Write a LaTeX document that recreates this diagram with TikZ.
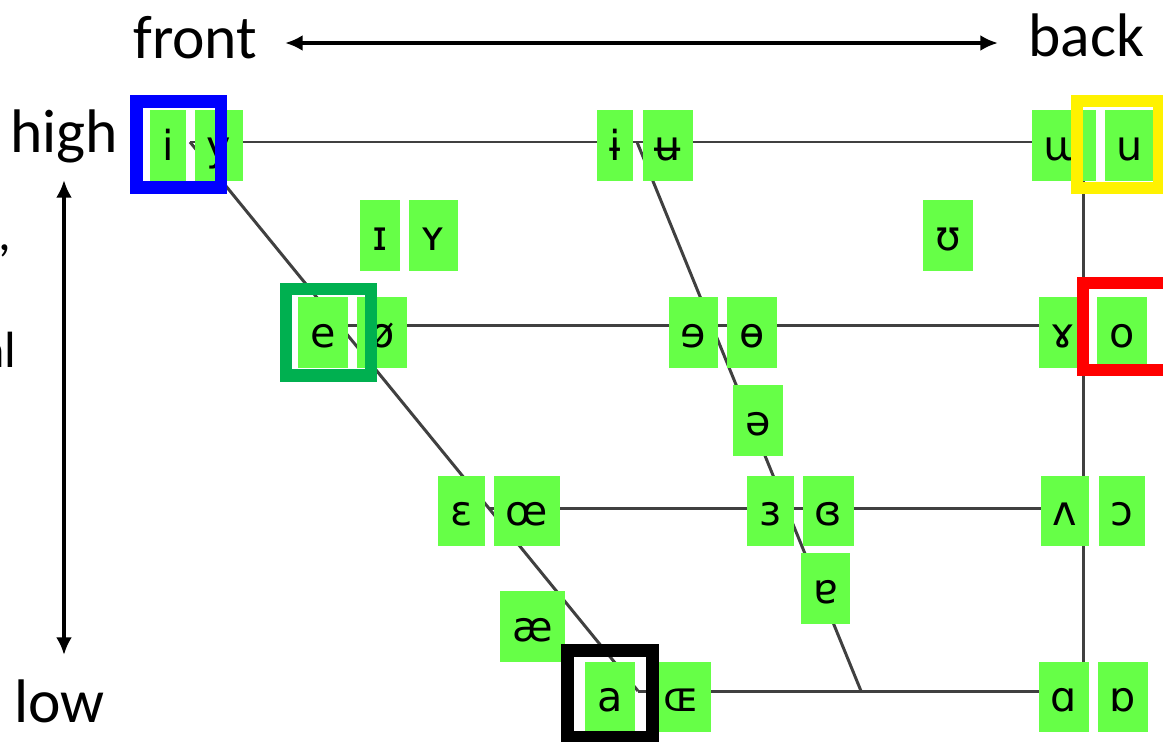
\documentclass[tikz,border=0pt]{standalone}
\usepackage{fontspec}
\setmainfont{Carlito}
\newfontfamily\ipafont{DejaVu Sans}
\usetikzlibrary{arrows.meta}
\definecolor{vgreen}{RGB}{102,255,71}
\definecolor{chartgray}{RGB}{64,64,64}
\definecolor{markgreen}{RGB}{0,176,80}
\tikzstyle{vwl}=[fill=vgreen,inner xsep=6.9pt,minimum height=40.2pt,text height=16.5pt,text depth=0pt,font=\ipafont\fontsize{23.5}{26}\selectfont]
\tikzstyle{chart}=[draw=chartgray,line width=1.7pt]
\tikzstyle{hilite}=[line width=7.1pt]
\tikzstyle{lbl}=[inner sep=0pt,font=\fontsize{35}{40}\selectfont]
\tikzstyle{cut}=[inner sep=0pt,font=\fontsize{29}{32}\selectfont]
\tikzstyle{axis}=[line width=2.5pt,<->]

\begin{document}
\begin{tikzpicture}[
            x=0.02cm, y=-0.02cm,
            >={Latex[length=10pt,width=9pt]}
        ]
        \useasboundingbox (0,0) rectangle (1163,741);
        % corners of the chart
        \coordinate (fc)  at (190,142);
        \coordinate (fcm) at (339,325);
        \coordinate (fom) at (489,508);
        \coordinate (fo)  at (638,691);
        \coordinate (cc)  at (637,142);
        \coordinate (co)  at (861,691);
        \coordinate (bc)  at (1083,142);
        \coordinate (bcm) at (1083,325);
        \coordinate (bom) at (1083,508);
        \coordinate (bo)  at (1083,691);
        \draw[chart] (fc) -- (bc);
        \draw[chart] (fcm) -- (bcm);
        \draw[chart] (fom) -- (bom);
        \draw[chart] (fo) -- (bo);
        \draw[chart] (fc) -- (fo);
        \draw[chart] (cc) -- (co);
        \draw[chart] (bc) -- (bo);
        % close
        \node [vwl] (i)      at (168,145.5)  {i};
        \node [vwl] (vy)     at (219,145.5)  {y};
        \node [vwl] (ibar)   at (615,145.5)  {ɨ};
        \node [vwl] (ubar)   at (668,145.5)  {ʉ};
        \node [vwl] (turnm)  at (1064,145.5) {ɯ};
        \node [vwl] (u)      at (1130,145.5) {u};
        % near-close
        \node [vwl] (smalli) at (380,235.5)  {ɪ};
        \node [vwl] (smally) at (433.5,235.5) {ʏ};
        \node [vwl] (upsil)  at (948,235.5)  {ʊ};
        % close-mid
        \node [vwl] (e)      at (323,332.5)  {e};
        \node [vwl] (oslash) at (382,332.5)  {ø};
        \node [vwl] (reve)   at (693.5,332.5) {ɘ};
        \node [vwl] (baro)   at (752,332.5)  {ɵ};
        \node [vwl] (rams)   at (1063,332.5) {ɤ};
        \node [vwl] (o)      at (1122,332.5) {o};
        \node [vwl] (schwa)  at (758,420.5)  {ə};
        % open-mid
        \node [vwl] (eps)    at (461.5,511)  {ɛ};
        \node [vwl] (oe)     at (527,511)    {œ};
        \node [vwl] (reveps) at (770.5,511)  {ɜ};
        \node [vwl] (cleps)  at (828.5,511)  {ɞ};
        \node [vwl] (wedge)  at (1065,511)   {ʌ};
        \node [vwl] (openo)  at (1122,511)   {ɔ};
        \node [vwl] (ash)    at (532.5,626.5) {æ};
        \node [vwl] (turna)  at (825.5,588.5) {ɐ};
        % open
        \node [vwl] (a)      at (610,697)    {a};
        \node [vwl] (smalloe) at (681.5,697) {ɶ};
        \node [vwl] (alpha)  at (1064,697)   {ɑ};
        \node [vwl] (turnal) at (1123,697)   {ɒ};
        % highlight frames
        \draw[hilite, blue] (136.5,101.5) rectangle (221,187.5);
        \draw[hilite, markgreen] (286,289) rectangle (371,375.5);
        \draw[hilite, yellow] (1077,101) rectangle (1159,188);
        \draw[hilite, red] (1083,283) rectangle (1178,370);
        \draw[hilite, black] (567.5,650.5) rectangle (652.5,737.5);
        % axes
        \node [lbl,anchor=base west] (front) at (133,58)  {front};
        \node [lbl,anchor=base west] (back)  at (1028,56) {back};
        \node [lbl,anchor=base west] (high)  at (10,152)  {high};
        \node [lbl,anchor=base west] (low)   at (14,722)  {low};
        \node [cut,anchor=base east] (comma) at (12,250)  {,};
        \node [cut,anchor=base east] (al)    at (17,367)  {al};
        \coordinate (hl) at (285,43);
        \coordinate (hr) at (998,43);
        \coordinate (vt) at (64,180);
        \coordinate (vb) at (64,655);
        \draw[axis] (hl) -- (hr);
        \draw[axis] (vt) -- (vb);
    \end{tikzpicture}
\end{document}
